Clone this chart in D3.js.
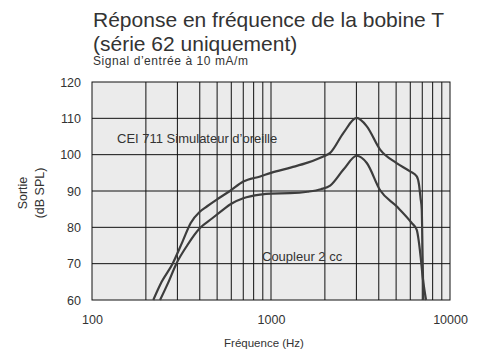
<!DOCTYPE html>
<html>
<head>
<meta charset="utf-8">
<script src="https://cdn.jsdelivr.net/npm/d3@7"></script>
<style>
  body { margin: 0; background: #fff; }
  text { font-family: "Liberation Sans", Arial, sans-serif; fill: #333; }
</style>
</head>
<body>
<div id="chart"></div>
<script>
// tick labels
var xTicks = [100, 1000, 10000];
var xGrid = [200, 300, 400, 500, 600, 700, 800, 900, 2000, 3000, 4000, 5000, 6000, 7000, 8000, 9000];
var yTicks = [60, 70, 80, 90, 100, 110, 120];

// CEI 711 Simulateur d'oreille
var earFreq = [220, 245, 282, 320, 356, 400, 440, 500, 590, 700, 870, 1000, 1300, 1600, 1960, 2140, 2540, 3010, 3430, 4070, 5030, 5980, 6520, 6700, 6850, 6950, 7030, 7100];
var earDb   = [60, 65, 70, 76, 81.2, 84.3, 85.8, 87.7, 90, 92.6, 94, 95, 96.5, 97.8, 99.5, 100.5, 106, 110.1, 107.8, 101.4, 97.7, 95.4, 94, 92, 88, 85, 72, 60];

// Coupleur 2 cc
var cplFreq = [240, 265, 296, 340, 401, 470, 541, 600, 700, 870, 1000, 1276, 1600, 1900, 2140, 2540, 3013, 3430, 4070, 5030, 6110, 6520, 6700, 6850, 7050, 7350];
var cplDb   = [60, 64.5, 70, 75, 79.8, 82.5, 84.9, 86.5, 88, 89, 89.3, 89.4, 89.8, 90.5, 91.5, 95.9, 99.7, 97.7, 90.2, 85.8, 81.2, 79.3, 76, 72, 66, 60];

window.onload = function(){
    drawChart();
};

function drawChart(){
    var svg = d3.select("#chart").append("svg").attr("width", 482).attr("height", 355);

    var x = d3.scaleLog().domain([100, 10000]).range([92, 450]);
    var y = d3.scaleLinear().domain([60, 120]).range([300, 82]);

    // plot background
    svg.append("rect")
        .attr("x", x(100)).attr("y", y(120))
        .attr("width", x(10000) - x(100)).attr("height", y(60) - y(120))
        .attr("fill", "#ebebeb");

    // grid
    svg.selectAll(".vgrid")
        .data(xGrid.concat([1000]))
        .enter().append("line")
        .attr("x1", function(d){ return x(d); }).attr("x2", function(d){ return x(d); })
        .attr("y1", y(120)).attr("y2", y(60))
        .attr("stroke", "#111").attr("stroke-width", 1);

    svg.selectAll(".hgrid")
        .data(yTicks.slice(1, -1))
        .enter().append("line")
        .attr("x1", x(100)).attr("x2", x(10000))
        .attr("y1", function(d){ return y(d); }).attr("y2", function(d){ return y(d); })
        .attr("stroke", "#111").attr("stroke-width", 1);

    svg.append("rect")
        .attr("x", x(100)).attr("y", y(120))
        .attr("width", x(10000) - x(100)).attr("height", y(60) - y(120))
        .attr("fill", "none").attr("stroke", "#111").attr("stroke-width", 1);

    // axes labels
    var xAxis = d3.axisBottom(x).tickValues(xTicks).tickFormat(d3.format("d")).tickSize(0).tickPadding(15);
    var gx = svg.append("g").attr("transform", "translate(0," + y(60) + ")").call(xAxis);
    gx.select(".domain").remove();
    gx.selectAll("text").attr("font-size", 12.5).style("font-family", null).attr("fill", "#333");

    var yAxis = d3.axisLeft(y).tickValues(yTicks).tickSize(0).tickPadding(11);
    var gy = svg.append("g").attr("transform", "translate(" + x(100) + ",0)").call(yAxis);
    gy.select(".domain").remove();
    gy.selectAll("text").attr("font-size", 12.5).style("font-family", null).attr("fill", "#333");

    // curves
    var line = d3.line()
        .x(function(d){ return x(d[0]); })
        .y(function(d){ return y(d[1]); })
        .curve(d3.curveMonotoneX);

    [[earFreq, earDb], [cplFreq, cplDb]].forEach(function(s){
        svg.append("path")
            .datum(d3.zip(s[0], s[1]))
            .attr("d", line)
            .attr("fill", "none")
            .attr("stroke", "#3d3d3d")
            .attr("stroke-width", 2.2);
    });

    // series labels
    svg.append("text").attr("x", 117).attr("y", 143).attr("font-size", 13).text("CEI 711 Simulateur d\u2019oreille");
    svg.append("text").attr("x", 262).attr("y", 261).attr("font-size", 13).text("Coupleur 2 cc");

    // titles
    svg.append("text").attr("x", 93).attr("y", 27).attr("font-size", 21).attr("fill", "#111").text("Réponse en fréquence de la bobine T");
    svg.append("text").attr("x", 93).attr("y", 51).attr("font-size", 21).attr("fill", "#111").text("(série 62 uniquement)");
    svg.append("text").attr("x", 93).attr("y", 65).attr("font-size", 12)
        .attr("textLength", 155).attr("lengthAdjust", "spacing").text("Signal d\u2019entrée à 10 mA/m");

    // axis titles
    svg.append("text").attr("x", 264).attr("y", 347).attr("font-size", 11.5).style("text-anchor", "middle").text("Fréquence (Hz)");
    svg.append("text")
        .attr("transform", "translate(27,193) rotate(-90)")
        .attr("font-size", 12.5).style("text-anchor", "middle").text("Sortie");
    svg.append("text")
        .attr("transform", "translate(44,193) rotate(-90)")
        .attr("font-size", 12.5).style("text-anchor", "middle").text("(dB SPL)");
}
</script>
</body>
</html>
